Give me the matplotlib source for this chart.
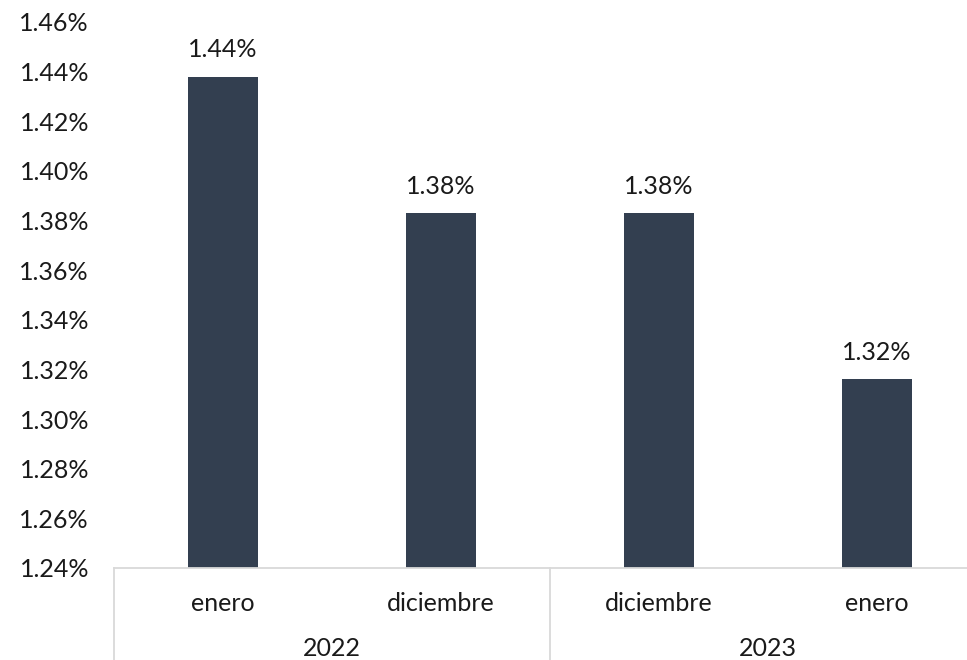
import matplotlib.pyplot as plt
import numpy as np
from matplotlib.ticker import FuncFormatter

months = ['enero', 'diciembre', 'diciembre', 'enero']
years = ['2022', '2023']
values = [1.438, 1.383, 1.383, 1.316]
labels = ['1.44%', '1.38%', '1.38%', '1.32%']

plt.rcParams['font.family'] = ['Lato', 'DejaVu Sans']
txt = '#1a1a1a'
grid_c = '#d9d9d9'
fs = 18

fig = plt.figure(figsize=(9.67, 6.6), dpi=100)
ax = fig.add_axes([0.1179, 0.1394, 0.9017, 0.8273])

x = np.arange(len(values))
ax.bar(x, values, width=0.317, color='#333f50')
for xi, v, lab in zip(x, values, labels):
    ax.annotate(lab, (xi, v), xytext=(0, 11), textcoords='offset points',
                ha='center', va='bottom', fontsize=fs, color=txt)

ax.set_xlim(-0.5, len(values) - 0.5)
ax.set_ylim(1.24, 1.46)
ax.set_yticks(np.arange(1.24, 1.4601, 0.02))
ax.yaxis.set_major_formatter(FuncFormatter(lambda v, p: f'{v:.2f}%'))
ax.tick_params(axis='y', length=0, labelsize=fs, labelcolor=txt, pad=18)
ax.set_xticks([])

for s in ['top', 'right', 'left']:
    ax.spines[s].set_visible(False)
ax.spines['bottom'].set_color(grid_c)
ax.spines['bottom'].set_linewidth(1.3)

# category labels
trans = ax.get_xaxis_transform()
for xi, m in zip(x, months):
    ax.text(xi, -0.065, m, transform=trans, ha='center', va='center',
            fontsize=fs, color=txt)
for i, yr in enumerate(years):
    ax.text(2 * i + 0.5, -0.147, yr, transform=trans, ha='center',
            va='center', fontsize=fs, color=txt)

# group separators
for xs in [-0.5, 1.5, 3.5]:
    ax.plot([xs, xs], [0, -0.17], transform=trans, color=grid_c,
            lw=1.3, clip_on=False)

fig.savefig('out.png', dpi=100)
